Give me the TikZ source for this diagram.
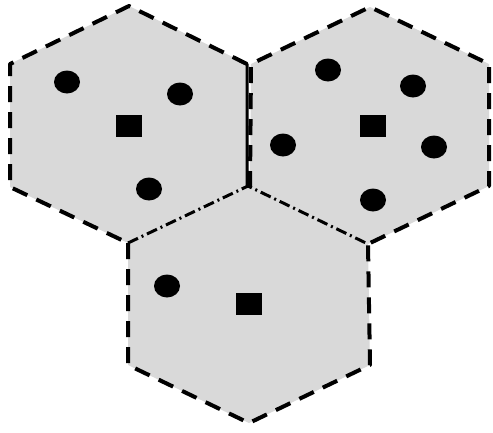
\documentclass[tikz,border=0pt]{standalone}
\begin{document}
\begin{tikzpicture}[x=1pt,y=-1pt,
  cellfill/.style={fill=cellgray,draw=none},
  celldash/.style={draw=black,line width=4pt,dash pattern=on 16pt off 10pt,line join=round},
  cellsolid/.style={draw=black,line width=3pt,line join=round},
  celldashdot/.style={draw=black,line width=3pt,dash pattern=on 11pt off 4pt on 2pt off 4pt},
  user/.style={fill=black,draw=none},
  base/.style={fill=black,draw=none}]
\definecolor{cellgray}{RGB}{217,217,217}
\useasboundingbox (0,0) rectangle (493,432);
% hexagon 1 (top left)
\coordinate (aT) at (129,6);   \coordinate (aUL) at (10,64);
\coordinate (aLL) at (10,187); \coordinate (aB) at (128,243);
\coordinate (aLR) at (247,186);\coordinate (aUR) at (247,64);
% hexagon 2 (top right)
\coordinate (bT) at (370,7);   \coordinate (bUL) at (251,64);
\coordinate (bLL) at (250,187);\coordinate (bB) at (368,244);
\coordinate (bLR) at (489,186);\coordinate (bUR) at (489,64);
% hexagon 3 (bottom)
\coordinate (cT) at (248,186); \coordinate (cUL) at (128,243);
\coordinate (cLL) at (128,365);\coordinate (cB) at (249,423);
\coordinate (cLR) at (370,365);\coordinate (cUR) at (368,244);
% fills
\path[cellfill] (aT)--(aUL)--(aLL)--(aB)--(aLR)--(aUR)--cycle;
\path[cellfill] (bT)--(bUL)--(bLL)--(bB)--(bLR)--(bUR)--cycle;
\path[cellfill] (cT)--(cUL)--(cLL)--(cB)--(cLR)--(cUR)--cycle;
% outlines
\draw[celldash] (aUR)--(aT)--(aUL)--(aLL)--(aB);
\draw[cellsolid] (240,61)--(aUR)--(aLR);
\draw[celldash] (bLL)--(bUL)--(bT)--(bUR)--(bLR)--(bB);
\draw[celldash] (cUL)--(cLL)--(cB)--(cLR)--(cUR);
\draw[celldashdot] (aB)--(cT)--(bB);
% hexagon 1 contents
\fill[user] (67,82) ellipse (13 and 11.5);
\fill[user] (180,94) ellipse (13 and 11.5);
\fill[user] (149,189) ellipse (13 and 11.5);
\fill[base] (116,115) rectangle (142,137);
% hexagon 2 contents
\fill[user] (328,70) ellipse (13 and 11.5);
\fill[user] (413,86) ellipse (13 and 11.5);
\fill[user] (283,145) ellipse (13 and 11.5);
\fill[user] (434,147) ellipse (13 and 11.5);
\fill[user] (373,200) ellipse (13 and 11.5);
\fill[base] (360,115) rectangle (386,137);
% hexagon 3 contents
\fill[user] (167,286) ellipse (13 and 11.5);
\fill[base] (236,293) rectangle (262,315);
\end{tikzpicture}
\end{document}
